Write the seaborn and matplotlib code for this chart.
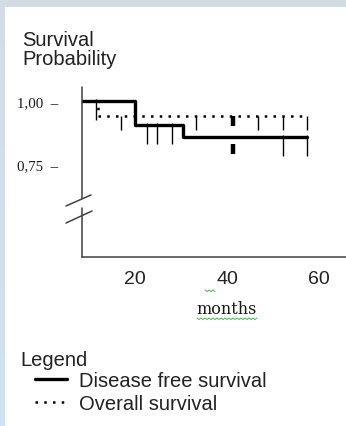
import numpy as np
import matplotlib
matplotlib.use("Agg")
import matplotlib.pyplot as plt
import seaborn as sns
from matplotlib.patches import Rectangle
from matplotlib.lines import Line2D

## Data
dfs_time = [0, 20.0, 30.5, 57.4]
dfs_surv = [1.00, 0.905, 0.856, 0.856]
os_time = [0, 11.9, 57.5]
os_surv = [1.00, 0.94, 0.94]

# censored observations (multi = several patients at the same time)
dfs_censor = [11.5, 22.6, 24.8, 28.0, 52.2, 57.4]
dfs_censor_multi = [41.3]
os_censor = [17.0, 33.2, 46.8, 52.2, 57.5]
os_censor_multi = [41.3]

x_ticks = [20, 40, 60]
y_ticks = [0.75, 1.00]
y_tick_labels = ["0,75  \u2013", "1,00  \u2013"]


def level_at(t, times, surv):
    idx = np.searchsorted(times, t, side="right") - 1
    return np.asarray(surv)[idx]


sns.set_style("white")
plt.rcParams["font.family"] = ["Liberation Sans", "DejaVu Sans"]

W, H = 346, 427
fig = plt.figure(figsize=(W / 100, H / 100), dpi=100, facecolor="#d3dbe4")

# white slide panel + soft blue left edge
fig.add_artist(Rectangle((5 / W, 0), 1, 1 - 8 / H, transform=fig.transFigure,
                         facecolor="white", edgecolor="none", zorder=0))
edge = fig.add_axes([0, 0, 5 / W, 1 - 8 / H])
grad = np.linspace(0, 1, 256).reshape(-1, 1)
edge.imshow(grad, aspect="auto", cmap=sns.blend_palette(["#d4dce6", "#d0e2f2"], as_cmap=True))
edge.axis("off")

ax = fig.add_axes([82 / W, 1 - 258 / H, 264 / W, 170 / H])
ax.set_facecolor("none")

## Curves
sns.lineplot(x=dfs_time, y=dfs_surv, drawstyle="steps-post", color="black",
             linewidth=2.4, sort=False, ax=ax, label="Disease free survival")
sns.lineplot(x=os_time, y=os_surv, drawstyle="steps-post", color="black",
             linewidth=1.8, linestyle=(0, (1, 2.5)), sort=False, ax=ax,
             label="Overall survival")

# censor ticks
lv = level_at(dfs_censor, dfs_time, dfs_surv)
ax.vlines(dfs_censor, lv - 0.075, lv + 0.01, color="black", lw=1.0)
lv = level_at(dfs_censor_multi, dfs_time, dfs_surv)
ax.vlines(dfs_censor_multi, lv - 0.068, lv - 0.028, color="black", lw=3.2)
lv = level_at(os_censor, os_time, os_surv)
ax.vlines(os_censor, lv - 0.055, lv, color="black", lw=1.0)
lv = level_at(os_censor_multi, os_time, os_surv)
ax.vlines(os_censor_multi, lv - 0.04, lv, color="black", lw=3.2)

ax.set_xlim(8.48, 65.87)
ax.set_ylim(0.381, 1.056)

## Axes styling
for s in ["top", "right", "left"]:
    ax.spines[s].set_visible(False)
axis_col = "#404040"
ax.spines["bottom"].set_color(axis_col)
ax.spines["bottom"].set_linewidth(1.1)

# broken y axis drawn by hand
kw = dict(transform=ax.transAxes, color=axis_col, lw=1.1, clip_on=False)
ax.add_line(Line2D([0, 0], [0.347, 1.0], **kw))
ax.add_line(Line2D([0, 0], [0.0, 0.288], **kw))
ax.add_line(Line2D([-0.0606, 0.0341], [0.30, 0.365], **kw))
ax.add_line(Line2D([-0.0606, 0.0379], [0.20, 0.2706], **kw))

ax.set_xticks(x_ticks)
ax.set_xticklabels([str(v) for v in x_ticks])
ax.tick_params(axis="x", length=0, pad=9.5, labelsize=14, labelcolor="#222222")
ax.set_yticks(y_ticks)
ax.set_yticklabels(y_tick_labels, family="Liberation Serif", fontsize=10.7)
ax.tick_params(axis="y", length=0, pad=17, labelcolor="#1a1a1a")
ax.set_xlabel("")
ax.set_ylabel("")

ax.text(40, -0.30, "months", transform=ax.get_xaxis_transform(), ha="center",
        va="center", family="DejaVu Serif", fontsize=11.5, color="#1a1a1a")

# spell-check squiggles
sx = np.arange(197, 258, 2.0)
sy = 319 + 1.5 * (np.arange(len(sx)) % 2)
fig.add_artist(Line2D(sx / W, 1 - sy / H, color="#4caf50", lw=0.7))
sx = np.arange(205, 216, 2.0)
sy = 291 + 1.5 * (np.arange(len(sx)) % 2)
fig.add_artist(Line2D(sx / W, 1 - sy / H, color="#4caf50", lw=0.7))

fig.text(22 / W, 1 - 31 / H, "Survival\nProbability", ha="left", va="top",
         fontsize=14.5, linespacing=1.0, color="#222222")

## Legend
fig.text(20 / W, 1 - 360 / H, "Legend", ha="left", va="center", fontsize=14.5,
         color="#222222")
ax.legend(loc="upper left", bbox_to_anchor=(35 / W, 1 - 372 / H),
          bbox_transform=fig.transFigure, frameon=False, handlelength=1.6,
          handletextpad=0.6, labelspacing=0.2, borderpad=0, borderaxespad=0,
          fontsize=14.5, labelcolor="#222222")

plt.savefig("out.png", dpi=100, facecolor=fig.get_facecolor())
